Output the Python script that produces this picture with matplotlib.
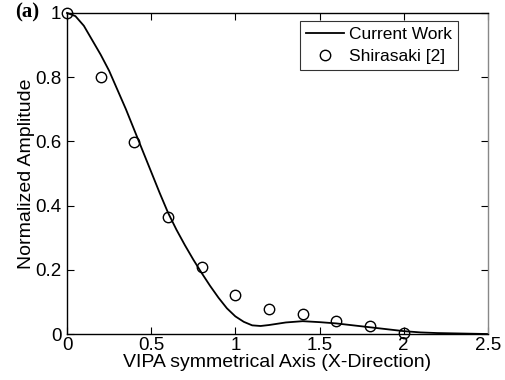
import matplotlib
matplotlib.use("Agg")
import matplotlib.pyplot as plt

plt.rcParams['font.family'] = ['Liberation Sans', 'DejaVu Sans']

# Current Work (solid curve)
curve_x = [0.0, 0.05, 0.1, 0.15, 0.2, 0.25, 0.3, 0.35, 0.4, 0.45, 0.5, 0.55, 0.6, 0.65, 0.7,
           0.75, 0.8, 0.85, 0.9, 0.95, 1.0, 1.05, 1.1, 1.15, 1.2, 1.3, 1.4, 1.5, 1.6, 1.7,
           1.8, 1.9, 2.0, 2.1, 2.2, 2.3, 2.4, 2.5]
curve_y = [1.0, 0.99, 0.96, 0.915, 0.87, 0.82, 0.76, 0.70, 0.635, 0.57, 0.505, 0.44, 0.378, 0.325, 0.277,
           0.232, 0.19, 0.15, 0.113, 0.08, 0.055, 0.038, 0.027, 0.025, 0.028, 0.036, 0.040, 0.037, 0.033, 0.027,
           0.021, 0.015, 0.009, 0.005, 0.003, 0.002, 0.001, 0.0]

# Shirasaki [2] (circles)
ref_x = [0.0, 0.2, 0.4, 0.6, 0.8, 1.0, 1.2, 1.4, 1.6, 1.8, 2.0]
ref_y = [1.0, 0.80, 0.598, 0.364, 0.21, 0.121, 0.078, 0.062, 0.041, 0.025, 0.003]

x_ticks = [0, 0.5, 1, 1.5, 2, 2.5]
x_tick_labels = ['0', '0.5', '1', '1.5', '2', '2.5']
y_ticks = [0, 0.2, 0.4, 0.6, 0.8, 1]
y_tick_labels = ['0', '0.2', '0.4', '0.6', '0.8', '1']

fig = plt.figure(figsize=(5.05, 3.80), dpi=100)
ax = fig.add_axes([0.1327, 0.121, 0.8333, 0.845])

ax.plot(curve_x, curve_y, color='black', lw=1.3, label='Current Work', clip_on=False)
ax.plot(ref_x, ref_y, linestyle='none', marker='o', markersize=7.5, markerfacecolor='none',
        markeredgecolor='black', markeredgewidth=1.0, label='Shirasaki [2]', clip_on=False)

ax.set_xlim(0, 2.5)
ax.set_ylim(0, 1)
ax.set_xticks(x_ticks)
ax.set_xticklabels(x_tick_labels)
ax.set_yticks(y_ticks)
ax.set_yticklabels(y_tick_labels)
ax.tick_params(direction='in', top=True, right=True, length=5, width=0.8, labelsize=13.5)
ax.tick_params(axis='x', pad=2)
ax.tick_params(axis='y', pad=4)
for s in ['left', 'bottom', 'top']:
    ax.spines[s].set_linewidth(1.0)
ax.spines['right'].set_color('#888888')
ax.spines['right'].set_linewidth(1.0)

ax.set_xlabel('VIPA symmetrical Axis (X-Direction)', fontsize=14, labelpad=0.5)
ax.set_ylabel('Normalized Amplitude', fontsize=14, labelpad=0)

leg = ax.legend(loc='upper right', bbox_to_anchor=(0.93, 0.975), fontsize=12.5, frameon=True,
                fancybox=False, edgecolor='black', handlelength=2.2, handletextpad=0.3,
                borderpad=0.35, labelspacing=0.4, borderaxespad=0)
leg.get_frame().set_linewidth(0.8)

fig.text(0.03, 0.966, '(a)', fontsize=15, fontweight='bold', family='Liberation Serif',
         va='center', ha='left')

fig.savefig('out.png', dpi=100)
